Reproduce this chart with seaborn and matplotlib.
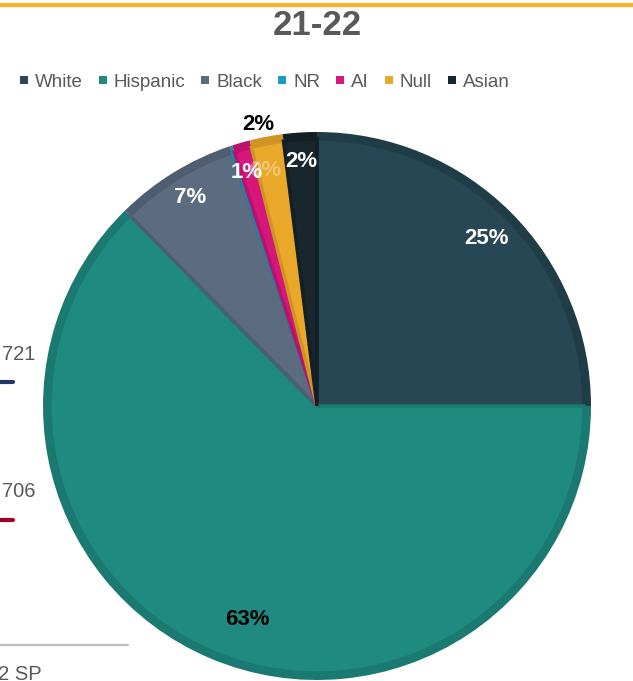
import numpy as np
import matplotlib
matplotlib.use("Agg")
import matplotlib.pyplot as plt
from matplotlib.lines import Line2D
import seaborn as sns

# ---------------- data ----------------
categories = ["White", "Hispanic", "Black", "NR", "AI", "Null", "Asian"]
values = [25.0, 62.65, 7.2, 0.15, 1.05, 1.95, 2.0]
title = "21-22"
# neighbouring chart fragments visible at the left edge
side_labels = ["721", "706"]
side_footer = "22 SP"

# ---------------- style ----------------
colors = ["#264753", "#1F8A80", "#5B6B80", "#1B9AC0", "#D6167A", "#E9A82A", "#17272D"]
edge_colors = ["#1F3C47", "#1A7A71", "#4E5D70", "#1787A8", "#B8126A", "#D09424", "#121F24"]
label_colors = ["white", "black", "white", "#FFFFFF", "white", "black", "white"]
label_alpha = [1, 1, 1, 0.35, 1, 1, 1]
label_dist = [0.877, 0.81, 0.90, 0.89, 0.90, 1.06, 0.905]
label_dangle = [0, 4.5, -0.5, -6, 0.5, 1, 0]

sns.set_theme(style="white")
plt.rcParams["font.family"] = ["Liberation Sans", "DejaVu Sans"]

W, H = 633, 681
fig = plt.figure(figsize=(W / 100, H / 100), dpi=100)
ax = fig.add_axes([0, 0, 1, 1])
ax.set_axis_off()

cx, cy, R = 317, H - 406, 274

# outer darker ring
ax.pie(values, colors=edge_colors, startangle=90, counterclock=False,
       center=(cx, cy), radius=R, wedgeprops=dict(linewidth=0))
wedges, _ = ax.pie(values, colors=colors, startangle=90, counterclock=False,
                   center=(cx, cy), radius=R - 7,
                   wedgeprops=dict(linewidth=2.5))
for w, ec in zip(wedges, edge_colors):
    w.set_edgecolor(ec)

# percentage labels
total = sum(values)
for i, w in enumerate(wedges):
    mid = (w.theta1 + w.theta2) / 2 + label_dangle[i]
    r = R * label_dist[i]
    x = cx + r * np.cos(np.radians(mid))
    y = cy + r * np.sin(np.radians(mid))
    pct = round(values[i] / total * 100)
    ax.text(x, y, f"{pct}%", ha="center", va="center_baseline",
            fontsize=16, fontweight="bold", color=label_colors[i],
            alpha=label_alpha[i], zorder=5 if label_alpha[i] == 1 else 4)

ax.set_xlim(0, W)
ax.set_ylim(0, H)
ax.set_aspect("equal")

# top orange rule
ax.plot([0, W], [H - 4.5, H - 4.5], color="#F6B32B", lw=3, solid_capstyle="butt")

# title
ax.text(317, H - 35, title, ha="center", va="baseline", fontsize=25,
        fontweight="bold", color="#595959")

# legend
handles = [Line2D([], [], marker="s", linestyle="none", markersize=6.2,
                  markerfacecolor=c, markeredgewidth=0) for c in colors]
leg = ax.legend(handles, categories, loc="center", bbox_to_anchor=(264, H - 82),
                bbox_transform=ax.transData, ncol=len(categories), frameon=False,
                fontsize=13.5, handlelength=0.6, handletextpad=0.3,
                columnspacing=0.75, borderpad=0, borderaxespad=0)
for t in leg.get_texts():
    t.set_color("#595959")

# fragments of neighbouring chart at left edge
ax.text(2, H - 360, side_labels[0], ha="left", va="baseline", fontsize=14.5, color="#595959")
ax.text(2, H - 497, side_labels[1], ha="left", va="baseline", fontsize=14.5, color="#595959")
ax.plot([0, 13], [H - 382, H - 382], color="#1F3864", lw=3, solid_capstyle="round")
ax.plot([0, 13], [H - 520, H - 520], color="#A50021", lw=3, solid_capstyle="round")
ax.plot([0, 128], [H - 645, H - 645], color="#BFBFBF", lw=1.6)
ax.text(42, H - 680, side_footer, ha="right", va="baseline", fontsize=14.5, color="#595959")

fig.savefig("out.png", dpi=100)
